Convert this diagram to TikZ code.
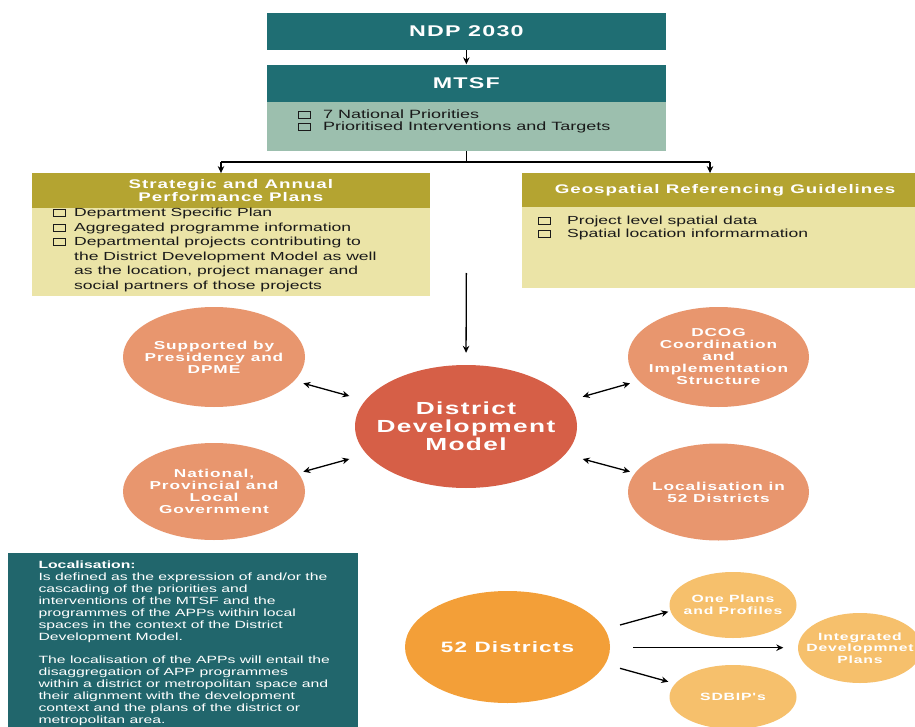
\documentclass[tikz,border=0pt]{standalone}
\usepackage{fontspec}
\setmainfont{Liberation Sans}[FakeStretch=1.5]
\newfontfamily\hdrfont{Liberation Sans}[FakeStretch=1.5,LetterSpace=8]
\usetikzlibrary{shapes.geometric,arrows.meta,calc}
\definecolor{tealA}{HTML}{1F6E73}
\definecolor{tealB}{HTML}{21666C}
\definecolor{sage}{HTML}{9CBFAE}
\definecolor{oliveH}{HTML}{B4A431}
\definecolor{paleY}{HTML}{EBE4A7}
\definecolor{ddmred}{HTML}{D65F47}
\definecolor{peach}{HTML}{E8966E}
\definecolor{orngA}{HTML}{F39F38}
\definecolor{orngB}{HTML}{F6C06C}
\definecolor{ink}{HTML}{1A1A1A}
\tikzset{
  x=1pt, y=-1pt,
  boxbase/.style={rectangle, draw=none, inner sep=0pt},
  tealhdr/.style={boxbase, fill=tealA, text=white, font=\hdrfont\bfseries\fontsize{15.5}{18}\selectfont},
  olivehdr/.style={boxbase, fill=oliveH, text=white, align=center, font=\hdrfont\bfseries\fontsize{12.5}{12.7}\selectfont},
  itemtxt/.style={inner sep=0pt, anchor=base west, text=ink, font=\fontsize{11.7}{14.4}\selectfont},
  cbox/.style={draw=ink, line width=0.7pt},
  ovalshape/.style={ellipse, draw=none, inner sep=0pt},
  ovaltxt/.style={inner sep=0pt, text=white, align=center},
  sidetxt/.style={ovaltxt, font=\hdrfont\bfseries\fontsize{11.5}{12}\selectfont},
  smalltxt/.style={ovaltxt, font=\hdrfont\bfseries\fontsize{10.5}{11.6}\selectfont},
  arr/.style={draw=black, line width=1.3pt, -{Stealth[length=7pt,width=6.5pt]}},
  darr/.style={draw=black, line width=1.3pt, {Stealth[length=7pt,width=6.5pt]}-{Stealth[length=7pt,width=6.5pt]}},
  plainline/.style={draw=black, line width=1.1pt},
}
\begin{document}
\begin{tikzpicture}
\useasboundingbox (0,0) rectangle (915,727);
\fill[white] (0,0) rectangle (915,727);

% top boxes
\node[tealhdr, minimum width=399.3pt, minimum height=37.3pt] (ndp) at (466.35,31.35) {NDP 2030};
\node[tealhdr, minimum width=399.3pt, minimum height=36.7pt] (mtsf) at (466.35,83.35) {MTSF};
\node[boxbase, fill=sage, minimum width=399.3pt, minimum height=49pt] (mtsfb) at (466.35,126.2) {};
\node[itemtxt, font=\fontsize{12}{14}\selectfont] (m1) at (323,119) {7 National Priorities};
\node[itemtxt, font=\fontsize{12}{14}\selectfont] (m2) at (323,130.5) {Prioritised Interventions and Targets};
\draw[cbox] ($(m1.base west)+(-25,-0.5)$) rectangle ++(12,-7);
\draw[cbox] ($(m2.base west)+(-25,-0.5)$) rectangle ++(12,-7);

\draw[arr, shorten >=0.5pt] (ndp.south) -- (mtsf.north);

% left box
\node[olivehdr, minimum width=398.3pt, minimum height=35pt] (sap) at (230.85,190.8) {Strategic and Annual\\Performance Plans};
\node[boxbase, fill=paleY, minimum width=398.3pt, minimum height=87.7pt] (sapb) at (230.85,252.15) {};
\node[itemtxt] (s1) at (74,217) {Department Specific Plan};
\node[itemtxt] (s2) at (74,231.5) {Aggregated programme information};
\node[itemtxt] (s3) at (74,246) {\parbox[t]{320pt}{\fontsize{11.7}{14.5}\selectfont Departmental projects contributing to\\the District Development Model as well\\as the location, project manager and\\social partners of those projects}};
\draw[cbox] ($(s1.base west)+(-21,-0.5)$) rectangle ++(12,-7);
\draw[cbox] ($(s2.base west)+(-21,-0.5)$) rectangle ++(12,-7);
\draw[cbox] ($(74,246)+(-21,-0.5)$) rectangle ++(12,-7);

% right box
\node[olivehdr, minimum width=406pt, minimum height=33.4pt] (geo) at (725,190) {Geospatial Referencing Guidelines};
\node[boxbase, fill=paleY, minimum width=406pt, minimum height=81.6pt] (geob) at (725,247.5) {};
\node[itemtxt] (g1) at (567,224.5) {Project level spatial data};
\node[itemtxt] (g2) at (567,238) {Spatial location informarmation};
\draw[cbox] ($(g1.base west)+(-29,-0.5)$) rectangle ++(12,-7);
\draw[cbox] ($(g2.base west)+(-29,-0.5)$) rectangle ++(12,-7);

% split connector
\coordinate (jn) at (466.35,162);
\coordinate (jl) at (221,162);
\coordinate (jr) at (710,162);
\draw[plainline] (mtsfb.south) -- (jn);
\draw[plainline] (jl) -- (jr);
\draw[arr] (jl) -- (jl |- sap.north);
\draw[arr] (jr) -- (jr |- geo.north);

% central model
\node[ovalshape, fill=ddmred, minimum width=222pt, minimum height=123pt] (ddm) at (466,426.5) {};
\node[ovaltxt, font=\hdrfont\bfseries\fontsize{17.5}{18}\selectfont] (ddmt) at (ddm.center) {District\\Development\\Model};
\coordinate (vtop) at (466.35,273);
\draw[arr, shorten >=12pt] (vtop) -- (ddm.north);

\node[ovalshape, fill=peach, minimum width=182pt, minimum height=100pt] (sup) at (214,357) {};
\node[sidetxt] (supt) at (sup.center) {Supported by\\Presidency and\\DPME};
\node[ovalshape, fill=peach, minimum width=182pt, minimum height=97pt] (nat) at (214,491.5) {};
\node[sidetxt] (natt) at (nat.center) {National,\\Provincial and\\Local\\Government};
\node[ovalshape, fill=peach, minimum width=181pt, minimum height=100pt] (dcog) at (718.5,357) {};
\node[sidetxt] (dcogt) at (dcog.center) {DCOG\\Coordination\\and\\Implementation\\Structure};
\node[ovalshape, fill=peach, minimum width=181pt, minimum height=97pt] (loc) at (718.5,492) {};
\node[sidetxt] (loct) at (loc.center) {Localisation in\\52 Districts};

\coordinate (a1) at (303.3,383.3); \coordinate (b1) at (349.3,396);
\coordinate (a2) at (303.3,471.7); \coordinate (b2) at (349.3,459);
\coordinate (a3) at (582.7,396.7); \coordinate (b3) at (630,383.3);
\coordinate (a4) at (582.7,459);   \coordinate (b4) at (630,471.7);
\draw[darr] (a1) -- (b1);
\draw[darr] (a2) -- (b2);
\draw[darr] (a3) -- (b3);
\draw[darr] (a4) -- (b4);

% localisation definition
\node[boxbase, fill=tealB, minimum width=349.7pt, minimum height=186.7pt] (defbox) at (183.15,646.65) {};
\node[inner sep=0pt, anchor=base west, text=white] (deftxt) at (38.3,568.3) {\parbox[t]{315pt}{\fontsize{10.5}{11.95}\selectfont
\textbf{Localisation:}\\
Is defined as the expression of and/or the\\
cascading of the priorities and\\
interventions of the MTSF and the\\
programmes of the APPs within local\\
spaces in the context of the District\\
Development Model.\\[11.95pt]
The localisation of the APPs will entail the\\
disaggregation of APP programmes\\
within a district or metropolitan space and\\
their alignment with the development\\
context and the plans of the district or\\
metropolitan area.}};

% 52 districts
\node[ovalshape, fill=orngA, minimum width=205pt, minimum height=112pt] (d52) at (507.5,647) {};
\node[ovaltxt, font=\hdrfont\bfseries\fontsize{15}{18}\selectfont] (d52t) at (d52.center) {52 Districts};
\node[ovalshape, fill=orngB, minimum width=127pt, minimum height=66pt] (one) at (733,605) {};
\node[smalltxt] (onet) at (one.center) {One Plans\\and Profiles};
\node[ovalshape, fill=orngB, minimum width=124pt, minimum height=70pt] (idp) at (860,648) {};
\node[smalltxt] (idpt) at (idp.center) {Integrated\\Developmnet\\Plans};
\node[ovalshape, fill=orngB, minimum width=127pt, minimum height=64pt] (sdb) at (733,697) {};
\node[smalltxt] (sdbt) at (sdb.center) {SDBIP's};

\coordinate (c1) at (620,625);   \coordinate (e1) at (668.3,611.7);
\coordinate (c2) at (633.3,647.7); \coordinate (e2) at (783.3,647.7);
\coordinate (c3) at (620,668.3); \coordinate (e3) at (668.3,681.7);
\draw[arr] (c1) -- (e1);
\draw[arr] (c2) -- (e2);
\draw[arr] (c3) -- (e3);
\end{tikzpicture}
\end{document}
